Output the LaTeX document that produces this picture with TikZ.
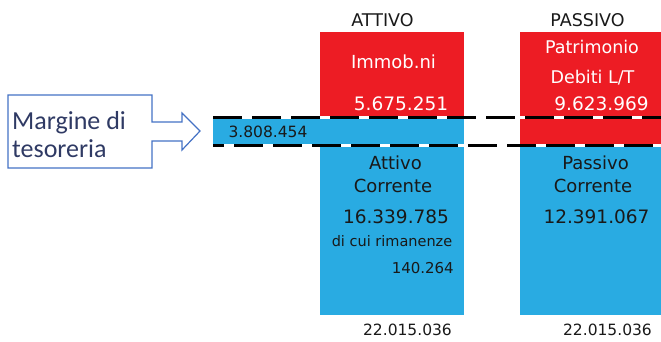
\documentclass[tikz,border=0pt]{standalone}
\usepackage{fontspec}
\setmainfont{DejaVu Sans}
\newfontfamily\calibrifont{Carlito}
\definecolor{boxred}{RGB}{237,28,36}
\definecolor{boxblue}{RGB}{41,171,226}
\definecolor{arrowblue}{RGB}{68,114,196}
\definecolor{labelnavy}{RGB}{47,58,100}
\definecolor{ink}{RGB}{25,25,25}
\newcommand{\fsz}[1]{\fontsize{#1}{#1}\selectfont}
\begin{document}
\begin{tikzpicture}[x=1pt,y=-1pt,
  txt/.style={inner sep=0pt,anchor=base,text=ink},
  wtxt/.style={txt,text=white},
  sep line/.style={line width=2.4pt,white},
  sep dash/.style={line width=2.4pt,black,dash pattern=on 29pt off 10pt}]
\useasboundingbox (0,0) rectangle (661,341);

% balance blocks
\fill[boxred]  (320,32) rectangle (464,118);
\fill[boxblue] (213,117) rectangle (464,146);
\fill[boxblue] (320,145) rectangle (464,315);
\fill[boxred]  (520,32) rectangle (661,146);
\fill[boxblue] (520,145) rectangle (661,315);

% separators
\coordinate (u1) at (213,117.5); \coordinate (u2) at (661,117.5);
\coordinate (l1) at (213,145.5); \coordinate (l2) at (661,145.5);
\draw[sep line] (u1) -- (u2);
\draw[sep line] (l1) -- (l2);
\draw[sep dash] (u1) -- (u2);
\draw[sep dash,dash phase=18pt] (l1) -- (l2);

% headers
\node[txt,font=\fsz{17.5}] (hatt) at (382.5,26) {ATTIVO};
\node[txt,font=\fsz{17.5}] (hpas) at (587.5,26) {PASSIVO};

% fixed assets / long-term funds
\node[wtxt,font=\fsz{18}] (imm) at (393.5,68) {Immob.ni};
\node[wtxt,font=\fsz{18.5}] (immv) at (401,110) {5.675.251};
\node[wtxt,font=\fsz{17.5}] (pat) at (592,53) {Patrimonio};
\node[wtxt,font=\fsz{17.5}] (deb) at (592.5,83) {Debiti L/T};
\node[wtxt,font=\fsz{18.5}] (patv) at (601.5,110) {9.623.969};

% treasury margin value
\node[txt,font=\fsz{15.5}] (marg) at (268,137) {3.808.454};

% current assets / liabilities
\node[txt,font=\fsz{18}] (att1) at (395.5,169) {Attivo};
\node[txt,font=\fsz{18}] (att2) at (393,192) {Corrente};
\node[txt,font=\fsz{18.5}] (attv) at (396,223) {16.339.785};
\node[txt,font=\fsz{14.5}] (rim) at (392,246) {di cui rimanenze};
\node[txt,font=\fsz{15},anchor=base east] (rimv) at (454,273) {140.264};
\node[txt,font=\fsz{18}] (pas1) at (595.5,169) {Passivo};
\node[txt,font=\fsz{18}] (pas2) at (593,192) {Corrente};
\node[txt,font=\fsz{18.5}] (pasv) at (596.5,223) {12.391.067};

% totals
\node[txt,font=\fsz{15.5}] (tatt) at (407.5,335) {22.015.036};
\node[txt,font=\fsz{15.5}] (tpas) at (607.5,335) {22.015.036};

% callout arrow
\draw[arrowblue,line width=1.2pt,line join=miter]
  (8,95) -- (152,95) -- (152,122) -- (182,122) -- (182,113) -- (200,131)
  -- (182,150) -- (182,141) -- (152,141) -- (152,168) -- (8,168) -- cycle;
\node[inner sep=0pt,anchor=base west,text=labelnavy,font=\calibrifont\fsz{26}] (mt1) at (12,129) {Margine di};
\node[inner sep=0pt,anchor=base west,text=labelnavy,font=\calibrifont\fsz{26}] (mt2) at (12,157) {tesoreria};
\end{tikzpicture}
\end{document}
